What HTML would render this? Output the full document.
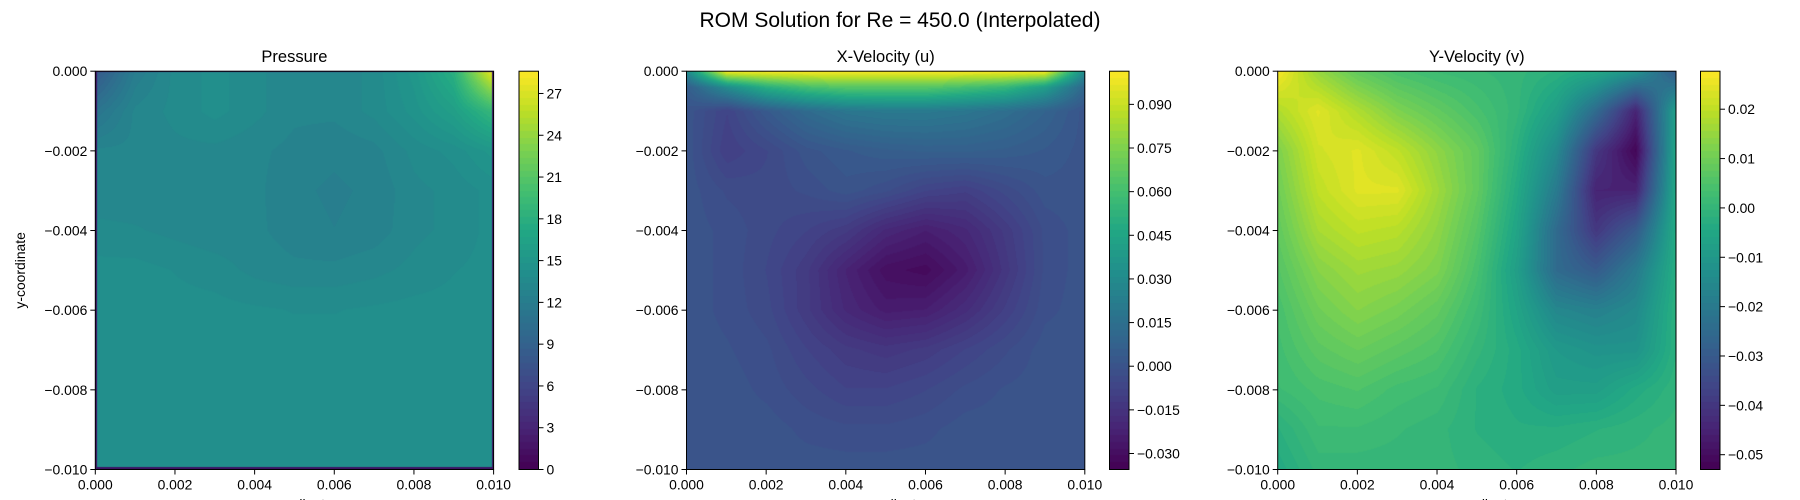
<!DOCTYPE html>
<html><head><meta charset="utf-8"><style>
body{margin:0;background:#fff;width:1800px;height:500px;overflow:hidden;position:relative;font-family:"Liberation Sans","DejaVu Sans",sans-serif}
canvas{position:absolute}
svg{position:absolute;left:0;top:0}
</style></head><body>
<svg id="svg" width="1800" height="500">
<text x="900" y="27" font-size="21" text-anchor="middle">ROM Solution for Re = 450.0 (Interpolated)</text>
</svg>
<script>
const xTicks=[0,0.002,0.004,0.006,0.008,0.010];
const yTicks=[0,-0.002,-0.004,-0.006,-0.008,-0.010];
const xTickLabels=["0.000","0.002","0.004","0.006","0.008","0.010"];
const yTickLabels=["0.000","\u22120.002","\u22120.004","\u22120.006","\u22120.008","\u22120.010"];
const titles=["Pressure","X-Velocity (u)","Y-Velocity (v)"];
const pRange=[0,28.6];
const uRange=[-0.0355,0.1014];
const vRange=[-0.053,0.0277];
const pTicks=[0,3,6,9,12,15,18,21,24,27];
const uTicks=[-0.030,-0.015,0,0.015,0.030,0.045,0.060,0.075,0.090];
const vTicks=[-0.05,-0.04,-0.03,-0.02,-0.01,0,0.01,0.02];
const pTickLabels=["0","3","6","9","12","15","18","21","24","27"];
const uTickLabels=["\u22120.030","\u22120.015","0.000","0.015","0.030","0.045","0.060","0.075","0.090"];
const vTickLabels=["\u22120.05","\u22120.04","\u22120.03","\u22120.02","\u22120.01","0.00","0.01","0.02"];
const uniformRows=[0,-0.001,-0.002,-0.003,-0.004,-0.005,-0.006,-0.007,-0.008,-0.009,-0.010];
const uRows=[0,-0.0004,-0.001,-0.002,-0.003,-0.004,-0.005,-0.006,-0.007,-0.008,-0.009,-0.010];
const pGrid=[
[8,12,13.5,14,13.5,13,13,13.5,15,18,28],
[11,13,13.5,14,13.5,13,13,13.5,14.5,16,19],
[13,13,13.2,13.2,13,12.7,12.5,12.7,13.5,14,15],
[13,13,13,13,13,12.5,12.3,12.5,13.2,13.5,14],
[13.5,13.4,13.2,13,13,12.6,12.4,12.6,13.2,13.5,14],
[14,14,13.8,13.6,13.2,13,13,13.2,13.5,13.8,14],
[14,14,14,14,13.9,13.8,13.8,13.9,14,14,14],
[14,14,14,14,14,14,14,14,14,14,14],
[14,14,14,14,14,14,14,14,14,14,14],
[14,14,14,14,14,14,14,14,14,14,14],
[14,14,14,14,14,14,14,14,14,14,14]];
const uGrid=[
[0.03,0.1,0.1,0.1,0.1,0.1,0.1,0.1,0.1,0.1,0.03],
[0.005,0.03,0.05,0.06,0.065,0.065,0.065,0.06,0.055,0.04,0.01],
[0,-0.008,0.003,0.012,0.018,0.02,0.02,0.018,0.014,0.008,0],
[0,-0.01,-0.006,0,0.003,0.005,0.006,0.006,0.005,0.003,0],
[0,-0.004,-0.005,-0.003,0,-0.003,-0.008,-0.01,-0.005,0,0],
[0,-0.002,-0.005,-0.008,-0.012,-0.02,-0.024,-0.02,-0.012,-0.003,0],
[0,-0.002,-0.006,-0.012,-0.022,-0.03,-0.032,-0.025,-0.014,-0.003,0],
[0,-0.002,-0.005,-0.012,-0.02,-0.025,-0.024,-0.018,-0.01,-0.002,0],
[0,-0.001,-0.003,-0.008,-0.012,-0.014,-0.012,-0.008,-0.004,0,0],
[0,0,-0.002,-0.005,-0.008,-0.008,-0.006,-0.003,-0.001,0,0],
[0,0,0,-0.002,-0.003,-0.003,-0.002,0,0,0,0],
[0,0,0,0,0,0,0,0,0,0,0]];
const vGrid=[
[0.027,0.015,0.008,0.004,0.002,0.001,0,-0.002,-0.005,-0.012,-0.03],
[0.018,0.024,0.018,0.012,0.008,0.004,0,-0.008,-0.025,-0.045,-0.008],
[0.012,0.022,0.024,0.02,0.014,0.008,-0.002,-0.015,-0.04,-0.052,-0.006],
[0.01,0.02,0.024,0.024,0.016,0.008,-0.004,-0.02,-0.045,-0.045,-0.005],
[0.008,0.017,0.02,0.019,0.014,0.006,-0.006,-0.025,-0.04,-0.03,-0.004],
[0.006,0.013,0.016,0.015,0.012,0.004,-0.008,-0.025,-0.03,-0.02,-0.003],
[0.004,0.01,0.013,0.011,0.008,0.002,-0.006,-0.016,-0.018,-0.015,-0.002],
[0.003,0.007,0.009,0.007,0.005,0,-0.004,-0.01,-0.012,-0.012,-0.002],
[0.002,0.004,0.005,0.003,0.002,-0.002,-0.004,-0.008,-0.008,-0.004,-0.001],
[-0.002,0.002,0.002,0.001,0,-0.002,-0.003,-0.003,-0.002,-0.001,0],
[-0.004,0,0,0,0,-0.001,-0.002,-0.001,0,0,0]];

const VIR=[[68,1,84],[72,36,117],[65,68,135],[53,95,141],[42,120,142],[33,145,140],[34,168,132],[68,191,112],[122,209,81],[189,223,38],[253,231,37]];
function viridis(t){t=Math.max(0,Math.min(1,t));const f=t*10,i=Math.min(9,Math.floor(f)),r=f-i;const a=VIR[i],b=VIR[i+1];return [a[0]+(b[0]-a[0])*r,a[1]+(b[1]-a[1])*r,a[2]+(b[2]-a[2])*r];}
const NS="http://www.w3.org/2000/svg";
const svg=document.getElementById('svg');
function mk(tag,attrs,txt){const e=document.createElementNS(NS,tag);for(const k in attrs)e.setAttribute(k,attrs[k]);if(txt!==undefined)e.textContent=txt;svg.appendChild(e);return e;}
const panels=[
 {L:95.3,grid:pGrid,rows:uniformRows,range:pRange,cb:519,ticks:pTicks,labels:pTickLabels,ylab:true,border:true},
 {L:686.5,grid:uGrid,rows:uRows,range:uRange,cb:1109.5,ticks:uTicks,labels:uTickLabels},
 {L:1277.7,grid:vGrid,rows:uniformRows,range:vRange,cb:1700.5,ticks:vTicks,labels:vTickLabels}];
const TOP=71.2,H=398.3,W=398.3,CBW=19.5,LEVELS=60;
panels.forEach((p,pi)=>{
 const xs=v=>p.L+(v-0)/0.01*W, ys=v=>TOP+(0-v)/0.01*H;
 const cw=Math.round(W),ch=Math.round(H);
 const c=document.createElement('canvas');c.width=cw;c.height=ch;
 c.style.left=p.L+'px';c.style.top=TOP+'px';c.style.width=W+'px';c.style.height=H+'px';
 
 
 document.body.insertBefore(c,svg);
 const ctx=c.getContext('2d'),img=ctx.createImageData(cw,ch);
 const g=p.grid,R=p.rows,n=g.length-1,m=g[0].length-1,[lo,hi]=p.range;
 for(let y=0;y<ch;y++){const yv=-y/(ch-1)*0.01;let iy=0;while(iy<n-1&&R[iy+1]>=yv)iy++;
  const fy=Math.max(0,Math.min(1,(R[iy]-yv)/(R[iy]-R[iy+1])));
  for(let x=0;x<cw;x++){const gx=x/(cw-1)*m,ix=Math.min(m-1,Math.floor(gx)),fx=gx-ix;
   let v=g[iy][ix]*(1-fx)*(1-fy)+g[iy][ix+1]*fx*(1-fy)+g[iy+1][ix]*(1-fx)*fy+g[iy+1][ix+1]*fx*fy;
   let t=(v-lo)/(hi-lo);t=(Math.floor(t*LEVELS)+0.5)/LEVELS;
   const col=viridis(t),k=(y*cw+x)*4;img.data[k]=col[0];img.data[k+1]=col[1];img.data[k+2]=col[2];img.data[k+3]=255;}}
 ctx.putImageData(img,0,0);
 if(p.border){ctx.fillStyle='rgb(60,20,100)';ctx.fillRect(0,0,2,ch);ctx.fillRect(cw-2,0,2,ch);ctx.fillRect(0,ch-2,cw,2);ctx.fillRect(0,0,cw,1);}
 const cb=document.createElement('canvas');cb.width=20;cb.height=ch;
 cb.style.left=p.cb+'px';cb.style.top=TOP+'px';cb.style.width=CBW+'px';cb.style.height=H+'px';
 
 
 document.body.insertBefore(cb,svg);
 const cc=cb.getContext('2d');
 for(let y=0;y<ch;y++){const t=1-y/(ch-1);const col=viridis((Math.floor(t*LEVELS)+0.5)/LEVELS);cc.fillStyle=`rgb(${col[0]|0},${col[1]|0},${col[2]|0})`;cc.fillRect(0,y,20,1);}
 const fr=mk('rect',{x:p.L,y:TOP,width:W,height:H,fill:'none',stroke:'#000','stroke-width':1});
 
 const cf=mk('rect',{x:p.cb,y:TOP,width:CBW,height:H,fill:'none',stroke:'#000','stroke-width':1});
 
 const tt=mk('text',{x:p.L+W/2,y:62,'font-size':16.5,'text-anchor':'middle'},titles[pi]);
 
 xTicks.forEach((v,i)=>{const x=xs(v);mk('line',{x1:x,x2:x,y1:TOP+H,y2:TOP+H+5,stroke:'#000'});
  const t=mk('text',{x:x,y:TOP+H+20,'font-size':13.9,'text-anchor':'middle'},xTickLabels[i]);
  });
 yTicks.forEach((v,i)=>{const y=ys(v);mk('line',{x1:p.L-5,x2:p.L,y1:y,y2:y,stroke:'#000'});
  const t=mk('text',{x:p.L-8,y:y+5,'font-size':13.9,'text-anchor':'end'},yTickLabels[i]);
  });
 p.ticks.forEach((v,i)=>{const y=TOP+H-(v-lo)/(hi-lo)*H;mk('line',{x1:p.cb+CBW,x2:p.cb+CBW+5,y1:y,y2:y,stroke:'#000'});
  const t=mk('text',{x:p.cb+CBW+8,y:y+5,'font-size':13.9},p.labels[i]);
  });
 const xl=mk('text',{x:p.L+W/2,y:509,'font-size':13.9,'text-anchor':'middle'},'x-coordinate');
 
 if(p.ylab){const yl=mk('text',{x:0,y:0,'font-size':13.9,'text-anchor':'middle',transform:`translate(25,${TOP+H/2}) rotate(-90)`},'y-coordinate');
  }
});
</script>
</body></html>
